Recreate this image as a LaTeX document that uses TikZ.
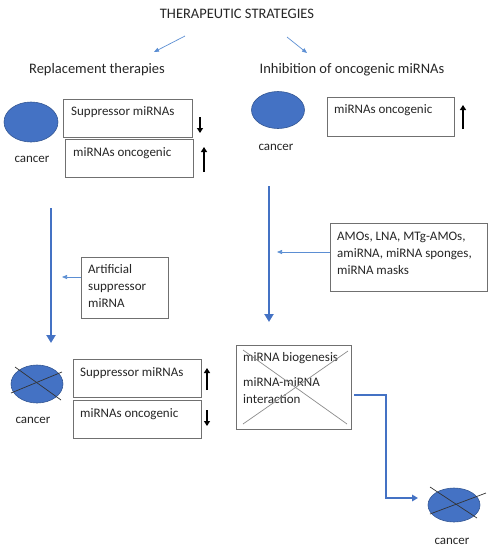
\documentclass[tikz,border=0pt]{standalone}
\usepackage{fontspec}
\setmainfont{Carlito}
\usetikzlibrary{arrows.meta,positioning,shapes.geometric}
\definecolor{tumorblue}{HTML}{4472C4}
\definecolor{flowblue}{HTML}{4472C4}
\definecolor{hintblue}{HTML}{5B8ED3}
\definecolor{boxgray}{HTML}{707070}
\definecolor{crossgray}{HTML}{8C8C8C}
\definecolor{inkgray}{HTML}{262626}
\tikzset{
  heading/.style={font=\fontsize{14.5}{17}\selectfont, text=inkgray, inner sep=0pt, anchor=base},
  boxtext/.style={font=\fontsize{13}{17}\selectfont, text=inkgray, inner sep=0pt, align=left},
  tag/.style={font=\fontsize{13}{17}\selectfont, text=inkgray, inner sep=0pt, anchor=base},
  panel/.style={draw=boxgray, line width=0.8pt, fill=white, inner sep=0pt, anchor=north west},
  tumor/.style={ellipse, fill=tumorblue, draw=tumorblue!75!black, line width=0.6pt, inner sep=0pt},
  hintarrow/.style={draw=hintblue, line width=0.7pt, -{Triangle[length=5pt,width=4pt]}},
  flowarrow/.style={draw=flowblue, line width=2.8pt, -{Triangle[length=8pt,width=9pt]}},
  bendarrow/.style={draw=flowblue, line width=2.2pt, -{Triangle[length=6pt,width=6.5pt]}},
  levelarrow/.style={draw=black, line width=1.6pt, -{Triangle[length=5pt,width=6pt]}},
  crossline/.style={draw=black!80, line width=0.7pt},
}
\begin{document}
\begin{tikzpicture}[x=1pt,y=-1pt]
    \useasboundingbox (0,0) rectangle (492,550);

    % 標題
    \node[heading] (title) at (237,18.5) {THERAPEUTIC STRATEGIES};
    \node[heading] (repl) at (97,73) {Replacement therapies};
    \node[heading] (inhib) at (352,73) {Inhibition of oncogenic miRNAs};
    \coordinate (s1) at (185,36);
    \coordinate (s2) at (154,52);
    \coordinate (s3) at (287,37);
    \coordinate (s4) at (307,53);
    \draw[hintarrow] (s1) -- (s2);
    \draw[hintarrow] (s3) -- (s4);

    % 左上: 腫瘤與兩個方框
    \node[tumor, minimum width=54pt, minimum height=40pt] (c1) at (31,122) {};
    \node[tag] (c1lab) at (32,162) {cancer};
    \node[panel, minimum width=129pt, minimum height=38pt] (sup1) at (63,99) {};
    \node[boxtext, anchor=base west] (sup1txt) at (71,115.5) {Suppressor miRNAs};
    \node[panel, minimum width=128pt, minimum height=38pt] (onc1) at (65,139) {};
    \node[boxtext, anchor=base west] (onc1txt) at (73,156.5) {miRNAs oncogenic};
    \coordinate (d1a) at (200,117);
    \coordinate (d1b) at (200,133);
    \coordinate (u1a) at (204,172);
    \coordinate (u1b) at (204,147);
    \draw[levelarrow] (d1a) -- (d1b);
    \draw[levelarrow] (u1a) -- (u1b);

    % 右上: 腫瘤與方框
    \node[tumor, minimum width=53pt, minimum height=37pt] (c2) at (278,110) {};
    \node[tag] (c2lab) at (276,150) {cancer};
    \node[panel, minimum width=127pt, minimum height=39pt] (onc2) at (327,97) {};
    \node[boxtext, anchor=base west] (onc2txt) at (334,113.5) {miRNAs oncogenic};
    \coordinate (u2a) at (463,129);
    \coordinate (u2b) at (463,105);
    \draw[levelarrow] (u2a) -- (u2b);

    % 中間: 主箭頭與治療方框
    \coordinate (m1a) at (51,208);
    \coordinate (m1b) at (51,343);
    \coordinate (m2a) at (269,186);
    \coordinate (m2b) at (269,322);
    \draw[flowarrow] (m1a) -- (m1b);
    \draw[flowarrow] (m2a) -- (m2b);
    \node[panel, minimum width=87pt, minimum height=61pt] (art) at (81,257) {};
    \node[boxtext, anchor=north west] (arttxt) at (88,264) {Artificial\\suppressor\\miRNA};
    \node[panel, minimum width=157pt, minimum height=68pt] (amo) at (330,223) {};
    \node[boxtext, anchor=north west] (amotxt) at (337,232) {AMOs, LNA, MTg-AMOs,\\amiRNA, miRNA sponges,\\miRNA masks};
    \coordinate (h1) at (62,277);
    \coordinate (h2) at (277,252);
    \draw[hintarrow] (art.west |- h1) -- (h1);
    \draw[hintarrow] (amo.west |- h2) -- (h2);

    % 左下: 被抑制的腫瘤
    \node[tumor, minimum width=52pt, minimum height=38pt] (c3) at (37,384) {};
    \node[tag] (c3lab) at (33,423) {cancer};
    \coordinate (x1a) at (15,367);
    \coordinate (x1b) at (61,400);
    \coordinate (x1c) at (11,393);
    \coordinate (x1d) at (62,372);
    \draw[crossline] (x1a) -- (x1b);
    \draw[crossline] (x1c) -- (x1d);
    \node[panel, minimum width=128pt, minimum height=38pt] (sup3) at (73,359) {};
    \node[boxtext, anchor=base west] (sup3txt) at (80,376.5) {Suppressor miRNAs};
    \node[panel, minimum width=128pt, minimum height=38pt] (onc3) at (73,400) {};
    \node[boxtext, anchor=base west] (onc3txt) at (80,417.5) {miRNAs oncogenic};
    \coordinate (u3a) at (207,390);
    \coordinate (u3b) at (207,368);
    \coordinate (d3a) at (207,410);
    \coordinate (d3b) at (207,426);
    \draw[levelarrow] (u3a) -- (u3b);
    \draw[levelarrow] (d3a) -- (d3b);

    % 右下: 被阻斷的機制
    \node[panel, minimum width=115pt, minimum height=84pt] (bio) at (236,345) {};
    \node[boxtext, anchor=base west] (biotxt) at (243,361.5) {miRNA biogenesis};
    \node[boxtext, anchor=north west] (inttxt) at (243,377.5) {miRNA-miRNA\\interaction};
    \coordinate (x2a) at (243,350);
    \coordinate (x2b) at (347,424);
    \coordinate (x2c) at (243,424);
    \coordinate (x2d) at (348,351);
    \draw[crossline, draw=crossgray] (x2a) -- (x2b);
    \draw[crossline, draw=crossgray] (x2c) -- (x2d);

    % 右下: 結果
    \node[tumor, minimum width=52pt, minimum height=34pt] (c4) at (454,505) {};
    \node[tag] (c4lab) at (452,544) {cancer};
    \coordinate (x3a) at (430,487);
    \coordinate (x3b) at (477,518);
    \coordinate (x3c) at (430,514);
    \coordinate (x3d) at (486,493);
    \draw[crossline] (x3a) -- (x3b);
    \draw[crossline] (x3c) -- (x3d);
    \coordinate (e1) at (354,395);
    \coordinate (e2) at (386,498);
    \coordinate (e3) at (418,498);
    \draw[bendarrow] (e1) -| (e2) -- (e3);
\end{tikzpicture}
\end{document}
